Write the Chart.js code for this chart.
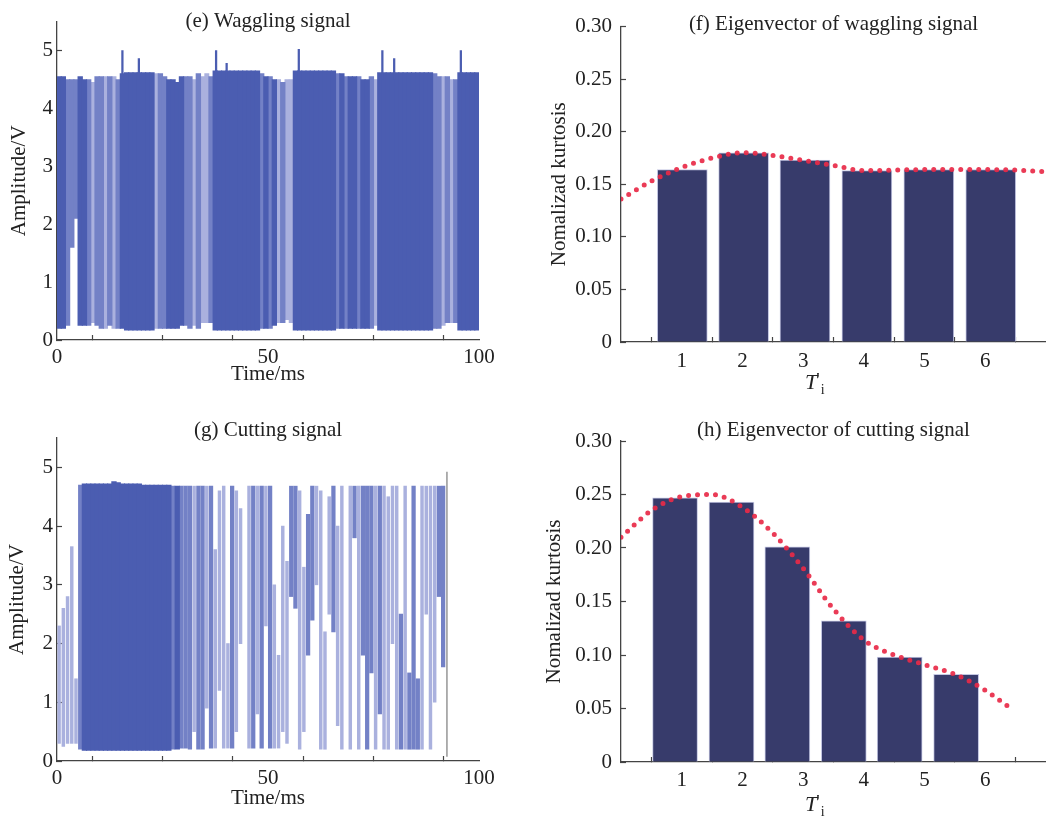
<!DOCTYPE html>
<html>
<head>
<meta charset="utf-8">
<script src="https://cdn.jsdelivr.net/npm/chart.js@4.4.1/dist/chart.umd.min.js"></script>
<style>
body { margin: 0; background: #fff; width: 1046px; height: 821px; overflow: hidden; position: relative; }
canvas { position: absolute; }
</style>
</head>
<body>
<canvas id="chartE" width="500" height="405" style="left:0px;top:0px"></canvas>
<canvas id="chartF" width="506" height="405" style="left:540px;top:0px"></canvas>
<canvas id="chartG" width="500" height="411" style="left:0px;top:410px"></canvas>
<canvas id="chartH" width="506" height="411" style="left:540px;top:410px"></canvas>
<script>
// waggling signal, read per 1 ms bin: top, bottom and how dense the trace is (3 dark .. 1 light)
const eHigh = [
  4.55, 4.55, 4.5, 4.5, 4.5, 4.55, 4.5, 4.5, 4.45, 4.55,
  4.55, 4.55, 4.55, 4.55, 4.5, 4.6, 4.62, 4.62, 4.62, 4.62,
  4.62, 4.62, 4.62, 4.6, 4.6, 4.55, 4.5, 4.5, 4.45, 4.55,
  4.55, 4.55, 4.5, 4.6, 4.55, 4.6, 4.55, 4.65, 4.65, 4.65,
  4.65, 4.65, 4.65, 4.65, 4.65, 4.65, 4.65, 4.65, 4.6, 4.55,
  4.55, 4.5, 4.5, 4.45, 4.5, 4.5, 4.65, 4.65, 4.65, 4.65,
  4.65, 4.65, 4.65, 4.65, 4.65, 4.65, 4.6, 4.6, 4.55, 4.55,
  4.55, 4.55, 4.5, 4.5, 4.55, 4.5, 4.62, 4.62, 4.62, 4.62,
  4.62, 4.62, 4.62, 4.62, 4.62, 4.62, 4.62, 4.62, 4.62, 4.6,
  4.55, 4.55, 4.55, 4.5, 4.5, 4.62, 4.62, 4.62, 4.62, 4.62
];
const eLow = [
  0.2, 0.2, 0.25, 1.6, 2.1, 0.25, 0.25, 0.25, 0.3, 0.25,
  0.2, 0.2, 0.25, 0.2, 0.2, 0.2, 0.17, 0.17, 0.17, 0.17,
  0.17, 0.17, 0.17, 0.2, 0.2, 0.2, 0.2, 0.2, 0.2, 0.25,
  0.25, 0.2, 0.25, 0.2, 0.3, 0.3, 0.3, 0.17, 0.17, 0.17,
  0.17, 0.17, 0.17, 0.17, 0.17, 0.17, 0.17, 0.17, 0.2, 0.2,
  0.2, 0.25, 0.3, 0.3, 0.35, 0.3, 0.17, 0.17, 0.17, 0.17,
  0.17, 0.17, 0.17, 0.17, 0.17, 0.17, 0.2, 0.2, 0.2, 0.2,
  0.2, 0.2, 0.2, 0.2, 0.2, 0.25, 0.17, 0.17, 0.17, 0.17,
  0.17, 0.17, 0.17, 0.17, 0.17, 0.17, 0.17, 0.17, 0.17, 0.2,
  0.2, 0.25, 0.3, 0.3, 0.3, 0.17, 0.17, 0.17, 0.17, 0.17
];
const eTone = [
  3, 3, 2, 2, 2, 3, 3, 2, 1, 2,
  2, 1, 2, 1, 2, 3, 3, 3, 3, 3,
  3, 3, 3, 1, 2, 2, 3, 3, 3, 3,
  2, 2, 1, 2, 1, 1, 2, 3, 3, 3,
  3, 3, 3, 3, 3, 3, 3, 3, 2, 3,
  2, 3, 1, 2, 1, 1, 3, 3, 3, 3,
  3, 3, 3, 3, 3, 3, 2, 3, 2, 3,
  3, 2, 3, 3, 2, 1, 3, 3, 3, 3,
  3, 3, 3, 3, 3, 3, 3, 3, 3, 2,
  2, 1, 2, 1, 2, 3, 3, 3, 3, 3
];
const eSpikeT = [15.5, 19.4, 37.7, 40.2, 57.3, 77.1, 79.9, 95.7];
const eSpikePeak = [5.0, 4.86, 5.0, 4.78, 5.02, 5.0, 4.86, 5.0];

// cutting signal, same reading, ends near 92.4 ms
const gHigh = [
  2.3, 2.6, 2.8, 3.65, 1.4, 4.7, 4.72, 4.72, 4.72, 4.72,
  4.72, 4.72, 4.72, 4.76, 4.74, 4.72, 4.72, 4.72, 4.72, 4.72,
  4.7, 4.7, 4.7, 4.7, 4.7, 4.7, 4.7, 4.68, 4.68, 4.68,
  4.68, 4.68, 4.68, 4.68, 4.68, 4.68, 4.68, 3.6, 4.6, 4.68,
  2.0, 4.68, 4.6, 4.3, 0, 4.68, 4.68, 4.68, 4.68, 4.68,
  4.68, 3.0, 1.8, 4.0, 3.4, 4.68, 4.68, 4.6, 3.3, 4.2,
  4.68, 4.68, 4.6, 2.2, 4.5, 4.68, 4.0, 4.68, 0, 4.68,
  4.68, 4.68, 4.68, 4.68, 4.68, 4.68, 4.68, 4.68, 4.5, 4.68,
  4.68, 2.5, 4.68, 1.5, 4.68, 1.4, 4.68, 4.68, 4.68, 4.68,
  4.68, 4.68
];
const gLow = [
  0.3, 0.25, 0.3, 0.3, 0.3, 0.2, 0.18, 0.18, 0.18, 0.18,
  0.18, 0.18, 0.18, 0.18, 0.18, 0.18, 0.18, 0.18, 0.18, 0.18,
  0.18, 0.18, 0.18, 0.18, 0.18, 0.18, 0.18, 0.2, 0.2, 0.22,
  0.22, 0.2, 0.5, 0.2, 0.2, 0.9, 0.22, 0.22, 1.2, 0.22,
  0.22, 0.22, 0.5, 2.0, 0, 0.22, 0.22, 0.8, 0.22, 2.3,
  0.22, 0.22, 0.22, 0.5, 0.3, 2.8, 2.6, 0.2, 0.5, 1.8,
  2.4, 3.0, 0.2, 0.2, 2.5, 2.2, 0.6, 0.2, 0, 0.2,
  3.8, 0.2, 1.8, 0.2, 1.5, 0.2, 0.8, 0.2, 0.2, 2.0,
  0.2, 0.2, 0.2, 0.2, 0.2, 0.2, 0.2, 2.5, 0.2, 1.0,
  2.8, 1.6
];
const gTone = [
  1, 1, 1, 1, 1, 2, 3, 3, 3, 3,
  3, 3, 3, 3, 3, 3, 3, 3, 3, 3,
  3, 3, 3, 3, 3, 3, 3, 2, 3, 2,
  2, 2, 1, 2, 2, 1, 2, 1, 1, 1,
  1, 2, 1, 1, 0, 1, 2, 1, 2, 1,
  2, 1, 1, 1, 1, 2, 2, 1, 1, 2,
  2, 1, 1, 1, 1, 2, 1, 1, 0, 1,
  2, 1, 2, 2, 2, 1, 2, 1, 1, 1,
  1, 2, 1, 2, 2, 2, 1, 1, 1, 1,
  2, 2
];
const gFrameX = [92.4];
const gFrameRange = [0.08, 4.92];

const timeTicks = [0, 16.67, 33.33, 50, 66.67, 83.33, 100];
const timeLabels = [0, 50, 100];
const ampTicks = [0, 1, 2, 3, 4, 5];

// eigenvectors (normalised kurtosis)
const tiTicks = [1, 2, 3, 4, 5, 6];
const kurtTicks = [0, 0.05, 0.10, 0.15, 0.20, 0.25, 0.30];
const fBarX = [1.01, 2.02, 3.03, 4.05, 5.07, 6.09];
const fBarY = [0.164, 0.180, 0.173, 0.163, 0.164, 0.164];
const fCurveX = [0, 0.5, 1, 1.5, 2, 2.5, 3, 3.5, 4, 4.5, 5, 5.5, 6, 6.5, 7];
const fCurveY = [0.136, 0.153, 0.166, 0.175, 0.180, 0.1775, 0.1727, 0.168, 0.163, 0.1635, 0.164, 0.164, 0.164, 0.1635, 0.162];
const hBarX = [0.89, 1.82, 2.74, 3.67, 4.59, 5.52];
const hBarY = [0.247, 0.243, 0.201, 0.132, 0.098, 0.082];
const hCurveX = [0, 0.5, 1, 1.5, 2, 2.5, 3, 3.5, 4, 4.5, 5, 5.5, 6, 6.4];
const hCurveY = [0.210, 0.235, 0.248, 0.250, 0.238, 0.214, 0.181, 0.143, 0.114, 0.100, 0.091, 0.082, 0.067, 0.051];

Chart.defaults.font.family = '"Liberation Serif", "Times New Roman", serif';
Chart.defaults.font.size = 21;
Chart.defaults.color = '#222';

const toneColors = {1: '#aab1de', 2: '#7381c6', 3: '#4b5db1'};
const axisGrid = {drawOnChartArea: false, tickLength: -5, color: '#444', tickWidth: 1.2};
const axisBorder = {display: true, color: '#444', width: 1.3};

function toneSets(hi, lo, tone, widths) {
  let sets = [];
  [1, 2, 3].forEach(function (k) {
    let pts = [];
    hi.forEach(function (h, i) {
      if (tone[i] === k) pts.push({x: i + 0.5, y: [lo[i], h]});
    });
    sets.push({data: pts, backgroundColor: toneColors[k], barThickness: widths[k], grouped: false, order: 5 - k});
  });
  return sets;
}

// draws the T'i caption under the bar charts
const tiCaption = {
  id: 'tiCaption',
  afterDraw(chart, args, opts) {
    const ctx = chart.ctx;
    const a = chart.chartArea;
    let x = a.left + opts.dx;
    let y = a.bottom + opts.dy;
    ctx.save();
    ctx.fillStyle = '#222';
    ctx.textBaseline = 'middle';
    ctx.textAlign = 'left';
    ctx.font = 'italic 22px "Liberation Serif"';
    ctx.fillText('T', x, y);
    x += ctx.measureText('T').width - 1;
    ctx.font = '19px "Liberation Serif"';
    ctx.fillText("'", x, y - 2);
    x += ctx.measureText("'").width + 1;
    ctx.font = '14px "Liberation Serif"';
    ctx.fillText('i', x, y + 7);
    ctx.restore();
  }
};

function signalChart(id, title, datasets, lay) {
  return new Chart(document.getElementById(id), {
    type: 'bar',
    data: {datasets: datasets},
    options: {
      responsive: false,
      animation: false,
      devicePixelRatio: 1,
      layout: {padding: {right: 21}},
      plugins: {
        legend: {display: false},
        tooltip: {enabled: false},
        title: {display: true, text: title, fullSize: false, color: '#222',
          font: {size: 21, weight: 'normal'}, padding: lay.titlePad}
      },
      scales: {
        x: {
          type: 'linear', min: 0, max: 100, offset: false,
          afterBuildTicks: function (s) { s.ticks = timeTicks.map(v => ({value: v})); },
          afterFit: function (s) { s.height = lay.xHeight; s.paddingLeft = 0; s.paddingRight = 0; },
          ticks: {autoSkip: false, maxRotation: 0, padding: lay.xTickPad,
            callback: v => timeLabels.includes(v) ? String(v) : ''},
          grid: axisGrid, border: axisBorder,
          title: {display: true, text: 'Time/ms', color: '#222', padding: {top: 0, bottom: lay.xTitlePad}}
        },
        y: {
          min: 0, max: 5.5,
          afterBuildTicks: function (s) { s.ticks = ampTicks.map(v => ({value: v})); },
          afterFit: function (s) { s.width = 57; },
          ticks: {padding: 9},
          grid: axisGrid, border: axisBorder,
          title: {display: true, text: 'Amplitude/V', color: '#222', padding: {top: lay.yTitlePad, bottom: 0}}
        }
      }
    }
  });
}

function kurtChart(id, title, barX, barY, barWidth, curveX, curveY, lay) {
  return new Chart(document.getElementById(id), {
    type: 'bar',
    data: {
      datasets: [
        {
          type: 'line',
          data: curveX.map((x, i) => ({x: x, y: curveY[i]})),
          borderColor: 'rgba(232, 42, 72, 0.92)',
          borderWidth: 5,
          borderDash: [0, 9],
          borderCapStyle: 'round',
          pointRadius: 0,
          cubicInterpolationMode: 'monotone',
          fill: false,
          order: 0
        },
        {
          data: barX.map((x, i) => ({x: x, y: barY[i]})),
          backgroundColor: '#373b6b',
          borderColor: '#c4c7e2',
          borderWidth: 1,
          barThickness: barWidth,
          grouped: false,
          order: 1
        }
      ]
    },
    options: {
      responsive: false,
      animation: false,
      devicePixelRatio: 1,
      layout: {padding: 0},
      plugins: {
        legend: {display: false},
        tooltip: {enabled: false},
        title: {display: true, text: title, fullSize: false, color: '#222',
          font: {size: 21, weight: 'normal'}, padding: lay.titlePad},
        tiCaption: {dx: 184, dy: lay.tiDy}
      },
      scales: {
        x: {
          type: 'linear', min: 0, max: 7, offset: false,
          afterBuildTicks: function (s) { s.ticks = tiTicks.map(v => ({value: v})); },
          afterFit: function (s) { s.height = lay.xHeight; s.paddingLeft = 0; s.paddingRight = 0; },
          ticks: {autoSkip: false, maxRotation: 0, padding: lay.xTickPad, callback: v => String(v)},
          grid: axisGrid, border: axisBorder
        },
        y: {
          min: 0, max: 0.3,
          afterBuildTicks: function (s) { s.ticks = kurtTicks.map(v => ({value: v})); },
          afterFit: function (s) { s.width = 81; },
          ticks: {padding: 14, callback: v => v === 0 ? '0' : v.toFixed(2)},
          grid: axisGrid, border: axisBorder,
          title: {display: true, text: 'Nomalizad kurtosis', color: '#222', padding: {top: lay.yTitlePad, bottom: 0}}
        }
      }
    },
    plugins: [tiCaption]
  });
}

let eSets = toneSets(eHigh, eLow, eTone, {1: 4.3, 2: 4.7, 3: 4.7});
eSets.push({
  data: eSpikeT.map((t, i) => ({x: t, y: [4.5, eSpikePeak[i]]})),
  backgroundColor: toneColors[3], barThickness: 1.6, grouped: false, order: 0
});
signalChart('chartE', '(e) Waggling signal', eSets,
  {titlePad: {top: 4, bottom: -12.2}, xHeight: 65, xTickPad: 10, xTitlePad: 18, yTitlePad: 7});

let gSets = toneSets(gHigh, gLow, gTone, {1: 2.8, 2: 3.6, 3: 4.7});
gSets.push({
  data: gFrameX.map(x => ({x: x, y: gFrameRange})),
  backgroundColor: '#a0a0a0', barThickness: 1, grouped: false, order: 0
});
signalChart('chartG', '(g) Cutting signal', gSets,
  {titlePad: {top: 7.5, bottom: -4.7}, xHeight: 60, xTickPad: 10, xTitlePad: 10, yTitlePad: 5});

kurtChart('chartF', '(f) Eigenvector of waggling signal', fBarX, fBarY, 50, fCurveX, fCurveY,
  {titlePad: {top: 4.5, bottom: -10.7}, xHeight: 63, xTickPad: 12, yTitlePad: 7, tiDy: 41});
kurtChart('chartH', '(h) Eigenvector of cutting signal', hBarX, hBarY, 45, hCurveX, hCurveY,
  {titlePad: {top: 7.5, bottom: -1.7}, xHeight: 59, xTickPad: 11, yTitlePad: 2, tiDy: 43});
</script>
</body>
</html>
